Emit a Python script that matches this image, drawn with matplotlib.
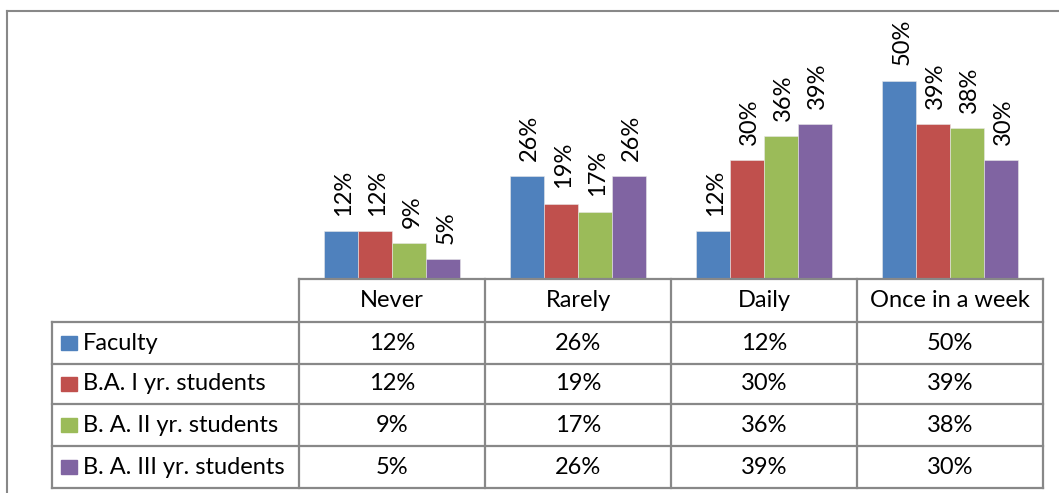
import matplotlib
matplotlib.use('Agg')
import matplotlib.pyplot as plt
from matplotlib.lines import Line2D
from matplotlib.patches import Rectangle
from matplotlib.transforms import blended_transform_factory
import numpy as np

plt.rcParams['font.family'] = ['Lato', 'DejaVu Sans']

categories = ['Never', 'Rarely', 'Daily', 'Once in a week']
series = ['Faculty', 'B.A. I yr. students', 'B. A. II yr. students', 'B. A. III yr. students']
values = [
    [12, 26, 12, 50],
    [12, 19, 30, 39],
    [9, 17, 36, 38],
    [5, 26, 39, 30],
]
colors = ['#4F81BD', '#C0504D', '#9BBB59', '#8064A2']

W, H = 1059, 493
fig = plt.figure(figsize=(W / 100, H / 100), dpi=100)
fs = 17


def fx(px):
    return px / W


def fy(py):
    return 1 - py / H


# plot area in pixels
left, right, base, top = 299, 1043, 279, 41
ax = fig.add_axes([fx(left), fy(base), fx(right - left), (base - top) / H])
ax.set_xlim(-0.5, len(categories) - 0.5)
ax.set_ylim(0, 60)
ax.axis('off')

bw = 0.183
x = np.arange(len(categories))
for i, (name, vals) in enumerate(zip(series, values)):
    xs = x + (i - 1.5) * bw
    ax.bar(xs, vals, width=bw, color=colors[i], edgecolor='#e8e8e8', linewidth=0.4)
    for xi, v in zip(xs, vals):
        ax.annotate(f'{v}%', (xi, v), xytext=(2, 11), textcoords='offset points',
                    rotation=90, ha='center', va='bottom', fontsize=fs)

# outer chart frame
grey = '#888888'
fig.add_artist(Line2D([fx(7), 1], [fy(11), fy(11)], color=grey, lw=1.5))
fig.add_artist(Line2D([fx(7), fx(7)], [fy(11), 0], color=grey, lw=1.5))

# data table
tr = blended_transform_factory(ax.transData, fig.transFigure)
rows = [279, 322, 364, 404, 446, 488]
tleft = 52
lw = 1.6

# horizontal lines
fig.add_artist(Line2D([fx(left), fx(right)], [fy(rows[0])] * 2, color=grey, lw=lw))
for r in rows[1:]:
    fig.add_artist(Line2D([fx(tleft), fx(right)], [fy(r)] * 2, color=grey, lw=lw))
# vertical lines
fig.add_artist(Line2D([fx(tleft)] * 2, [fy(rows[1]), fy(rows[-1])], color=grey, lw=lw))
for b in np.arange(len(categories) + 1) - 0.5:
    ax.add_line(Line2D([b, b], [fy(rows[0]), fy(rows[-1])], color=grey, lw=lw,
                       transform=tr, clip_on=False))

# header
for xi, c in zip(x, categories):
    ax.text(xi, fy((rows[0] + rows[1]) / 2), c, transform=tr, ha='center', va='center',
            fontsize=fs)

# rows
for i, (name, vals) in enumerate(zip(series, values)):
    yc = fy((rows[i + 1] + rows[i + 2]) / 2)
    fig.add_artist(Rectangle((fx(61), yc - 7 / H), 16 / W, 14 / H, color=colors[i],
                             transform=fig.transFigure))
    fig.text(fx(83), yc, name, ha='left', va='center', fontsize=fs)
    for xi, v in zip(x, vals):
        ax.text(xi, yc, f'{v}%', transform=tr, ha='center', va='center', fontsize=fs)

fig.savefig('out.png', dpi=100)
